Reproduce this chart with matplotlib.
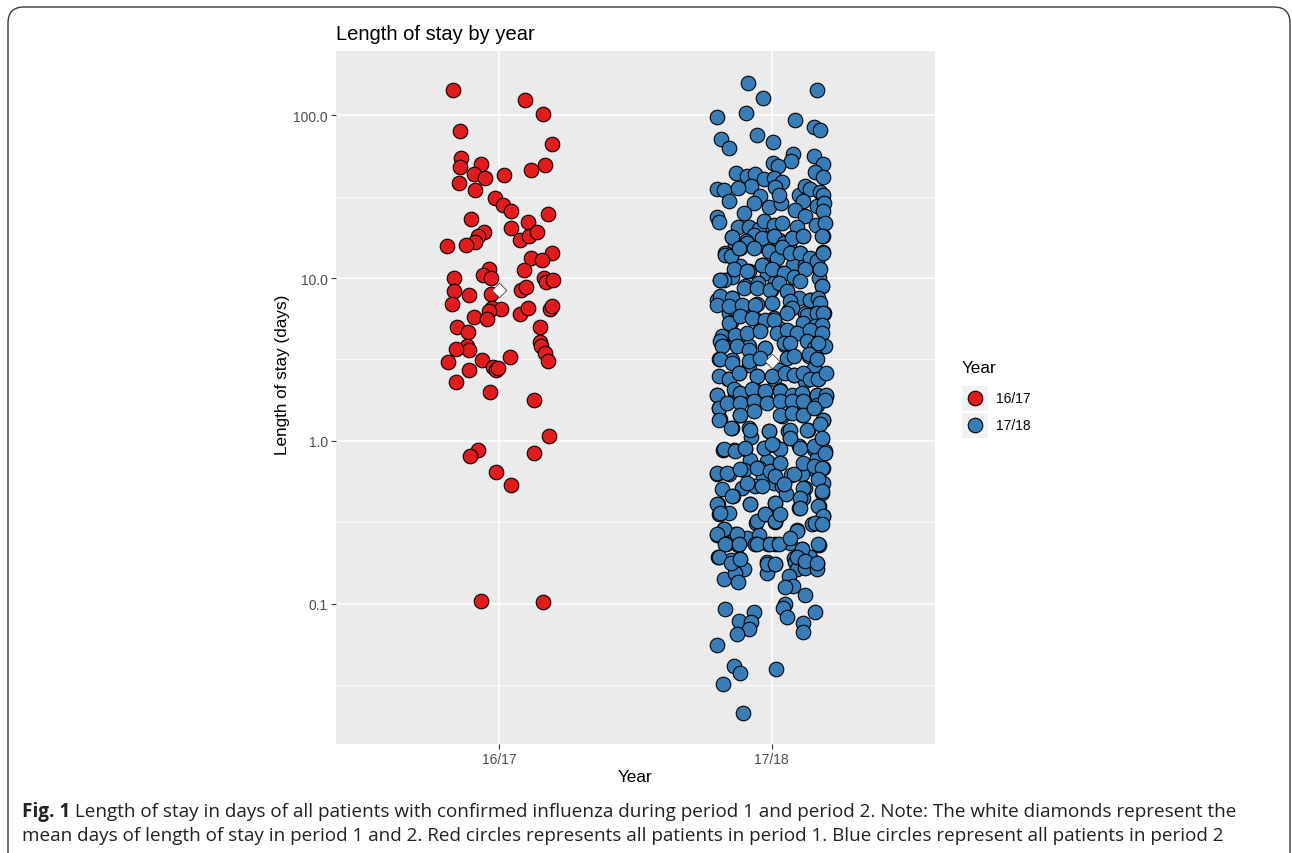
import numpy as np
import matplotlib.pyplot as plt
from matplotlib.patches import FancyBboxPatch, Rectangle

W, H = 1292, 854

years = ['16/17', '17/18']
colors = ['#E41A1C', '#377EB8']

# (jitter, days), period 1
red_points = [
    (-0.171, 142), (0.094, 125), (0.161, 102), (-0.143, 80.5), (0.193, 66.4),
    (-0.140, 54.7), (-0.143, 47.8), (-0.066, 50.1), (-0.094, 43.4), (-0.054, 40.9),
    (0.017, 43.0), (0.117, 46.2), (0.168, 49.4), (-0.147, 38.3), (-0.090, 34.5),
    (-0.017, 31.1), (0.014, 28.0), (0.041, 25.9), (0.179, 24.9), (-0.103, 23.0),
    (0.104, 22.0), (0.043, 20.2), (-0.058, 19.2), (-0.079, 18.2), (-0.088, 16.7),
    (-0.122, 15.9), (-0.193, 15.7), (0.077, 17.2), (0.110, 18.0), (0.140, 19.2),
    (0.193, 14.3), (0.117, 13.3), (0.156, 12.9), (-0.039, 11.4), (-0.059, 10.5),
    (-0.030, 10.0), (-0.168, 10.0), (0.092, 11.2), (0.165, 10.0), (0.173, 9.45),
    (0.198, 9.77), (-0.168, 8.28), (-0.110, 7.90), (-0.030, 7.98), (0.079, 8.47),
    (0.098, 8.81), (-0.173, 6.92), (-0.028, 6.55), (0.006, 6.48), (-0.037, 6.25),
    (-0.094, 5.74), (-0.047, 5.60), (0.077, 6.01), (0.107, 6.55), (0.186, 6.48),
    (0.195, 6.70), (-0.156, 4.99), (-0.115, 4.69), (0.149, 4.99), (0.149, 4.05),
    (0.154, 3.81), (-0.120, 3.81), (-0.112, 3.62), (-0.159, 3.67), (0.167, 3.47),
    (0.177, 3.08), (-0.189, 3.05), (-0.063, 3.14), (0.039, 3.26), (-0.025, 2.83),
    (-0.012, 2.73), (-0.006, 2.80), (-0.112, 2.71), (-0.159, 2.30), (-0.034, 2.00),
    (0.126, 1.79), (0.181, 1.07), (-0.079, 0.877), (-0.107, 0.805), (0.126, 0.836),
    (-0.012, 0.643), (0.043, 0.535), (-0.067, 0.104), (0.159, 0.102),
]

# period 2
blue_points = [
    (-0.088, 159), (0.168, 144), (-0.033, 128), (-0.200, 98), (-0.093, 103),
    (0.084, 93), (0.156, 84.8), (0.176, 81.7), (-0.186, 71.3), (-0.156, 62.8),
    (-0.052, 75.7), (0.005, 69), (0.078, 58.2), (0.072, 52), (0.004, 50.8),
    (0.023, 49.1), (0.154, 56.3), (0.187, 50.3), (0.160, 44.7), (0.188, 41.8),
    (-0.131, 44.3), (-0.089, 42.4), (-0.060, 43.4), (-0.074, 37.0), (-0.028, 40.5),
    (0.007, 40.9), (0.038, 39.0), (0.011, 36.5), (-0.200, 35.3), (-0.176, 34.7),
    (-0.125, 35.5), (-0.158, 29.8), (-0.044, 31.7), (-0.066, 28.8), (-0.008, 27.2),
    (0.036, 29.1), (0.026, 32.2), (0.099, 32.4), (0.121, 37.0), (0.142, 35.2),
    (0.176, 33.7), (0.190, 32.4), (0.115, 29.6), (0.087, 26.2), (0.121, 24.2),
    (0.168, 27.9), (0.194, 28.8), (0.187, 25.7), (-0.103, 25.0), (-0.200, 23.6),
    (-0.192, 22.1), (-0.123, 20.5), (-0.084, 20.5), (-0.045, 20.0), (-0.029, 22.5),
    (0.007, 21.2), (0.038, 21.8), (0.093, 20.5), (0.164, 21.1), (0.197, 21.8),
    (-0.066, 18.4),
    (-0.145, 17.8), (-0.093, 16.8), (-0.017, 17.6), (0.026, 17.2), (0.074, 17.6),
    (0.117, 18.0), (0.190, 18.0), (-0.133, 16.0), (-0.172, 14.2), (-0.151, 13.7),
    (-0.115, 15.3), (-0.041, 16.0), (0.014, 14.2), (0.016, 13.3), (0.062, 15.6),
    (0.105, 14.2), (0.144, 13.1), (0.190, 14.4), (-0.115, 11.9), (-0.084, 11.0),
    (-0.036, 12.1), (-0.017, 10.7), (0.038, 10.8), (0.077, 12.1), (0.123, 12.1),
    (0.175, 11.4), (-0.190, 9.77), (-0.145, 10.2), (-0.099, 8.9), (-0.050, 9.3),
    (0.014, 9.5), (0.082, 10.2), (0.175, 10.0), (0.184, 8.9), (-0.194, 7.36),
    (-0.145, 7.54), (-0.054, 6.95), (-0.001, 8.47), (0.056, 8.28), (0.099, 7.54),
    (0.142, 7.36), (0.166, 7.03), (-0.158, 6.10), (-0.109, 6.10), (-0.066, 5.69),
    (0.007, 5.69), (0.062, 6.39), (0.123, 6.10), (0.194, 6.10), (-0.151, 5.35),
    (-0.041, 4.82), (0.026, 4.93), (0.081, 4.60), (0.181, 5.05), (-0.182, 4.22),
    (-0.129, 3.88), (-0.084, 3.81), (-0.023, 3.72), (0.050, 3.90), (0.136, 4.39),
    (0.194, 3.81), (-0.194, 3.18), (-0.145, 3.13), (-0.084, 2.94), (0.026, 2.74),
    (0.081, 2.55), (0.136, 3.31), (0.154, 2.80), (0.172, 2.38), (-0.160, 2.38),
    (-0.121, 2.61), (-0.054, 2.49), (0.007, 2.38), (0.123, 2.32), (-0.200, 1.92),
    (-0.133, 1.97), (-0.060, 2.06), (0.032, 2.06), (0.105, 1.92), (0.166, 1.92),
    (0.200, 1.88), (-0.109, 1.79), (-0.023, 1.84),
    (-0.194, 1.59), (0.154, 1.61), (-0.188, 1.37), (-0.117, 1.45), (0.074, 1.51),
    (0.038, 1.42), (0.111, 1.45), (0.190, 1.35), (-0.145, 1.19), (-0.082, 1.19),
    (-0.008, 1.15), (-0.074, 1.05), (0.060, 1.15), (0.133, 1.17), (0.068, 1.04),
    (0.184, 1.03), (-0.179, 0.877), (-0.139, 0.872), (-0.096, 0.885), (-0.029, 0.906),
    (0.007, 0.948), (0.032, 0.885), (0.099, 0.927), (0.154, 0.885), (0.197, 0.865),
    (-0.078, 0.767), (-0.017, 0.750), (0.032, 0.733), (0.166, 0.787), (-0.200, 0.621),
    (-0.158, 0.628), (-0.103, 0.658), (-0.045, 0.676), (-0.033, 0.593), (0.007, 0.552),
    (0.072, 0.616), (0.145, 0.676), (0.190, 0.676), (0.111, 0.628), (-0.109, 0.515),
    (-0.060, 0.527), (0.038, 0.527), (0.187, 0.552), (0.121, 0.513), (-0.142, 0.458),
    (0.052, 0.469), (0.114, 0.447), (0.184, 0.480), (-0.197, 0.407), (-0.194, 0.353),
    (-0.158, 0.361), (-0.078, 0.407), (0.014, 0.417), (0.099, 0.388), (0.175, 0.397),
    (-0.026, 0.357), (0.026, 0.353), (0.190, 0.345), (-0.058, 0.314), (0.014, 0.318),
    (0.148, 0.310), (0.182, 0.307), (-0.176, 0.286), (-0.200, 0.264), (-0.133, 0.266),
    (-0.090, 0.254), (-0.048, 0.264), (0.093, 0.282), (0.014, 0.231), (-0.014, 0.231),
    (-0.167, 0.233), (-0.123, 0.230), (-0.060, 0.231), (0.068, 0.237), (0.111, 0.215),
    (0.175, 0.230), (-0.197, 0.193), (-0.148, 0.185), (-0.118, 0.188), (-0.017, 0.179),
    (0.014, 0.176), (0.081, 0.190), (0.087, 0.179), (0.142, 0.194), (0.166, 0.176),
    (-0.103, 0.162), (-0.176, 0.142), (-0.133, 0.153), (-0.123, 0.135), (-0.017, 0.155),
    (0.093, 0.162), (0.121, 0.166), (0.166, 0.164), (0.065, 0.148), (0.077, 0.129),
    (0.048, 0.127), (0.121, 0.113), (0.048, 0.100), (0.040, 0.0945), (0.058, 0.0832),
    (0.158, 0.0881), (-0.173, 0.0931), (-0.065, 0.0881), (-0.121, 0.0776), (-0.074, 0.0766),
    (-0.084, 0.0695), (-0.126, 0.0646), (0.117, 0.0764), (0.115, 0.0673), (-0.200, 0.0555),
    (-0.137, 0.0415), (-0.115, 0.0373), (0.016, 0.0395), (-0.178, 0.0320), (-0.105, 0.0214),
    # dense middle, second reading
    (-0.145, 17.8), (-0.090, 16.4), (-0.035, 17.6), (0.007, 18.0), (0.044, 16.4),
    (0.074, 17.6), (0.117, 18.0), (0.184, 18.0), (-0.170, 13.9), (-0.151, 13.6),
    (-0.121, 15.3), (-0.066, 15.3), (-0.011, 14.6), (0.020, 13.3), (0.038, 15.6),
    (0.068, 14.2), (0.105, 14.2), (0.142, 13.3), (0.166, 12.7), (0.188, 14.2),
    (-0.176, 9.77), (-0.190, 9.77), (-0.139, 11.3), (-0.090, 11.0), (-0.035, 12.1),
    (0.001, 11.3), (0.044, 10.7), (0.081, 10.2), (0.123, 11.3), (0.178, 11.3),
    (0.184, 8.89), (-0.200, 7.36), (-0.188, 7.72), (-0.145, 7.54), (-0.103, 8.68),
    (-0.054, 8.68), (-0.005, 8.48), (0.026, 9.32), (0.056, 8.28), (0.105, 9.54),
    (0.142, 7.36), (0.172, 7.54), (0.176, 7.03), (-0.200, 6.86), (-0.158, 6.70),
    (-0.109, 6.86), (-0.060, 6.86), (0.001, 7.03), (0.068, 7.19), (0.074, 6.55),
    (0.129, 5.96), (0.166, 6.10), (0.190, 6.10), (-0.158, 5.30), (-0.115, 5.82),
    (-0.072, 5.68), (-0.023, 5.55), (0.007, 5.55), (0.056, 6.10), (0.117, 5.30),
    (0.160, 5.05), (0.184, 5.17), (-0.182, 4.39), (-0.188, 4.09), (-0.133, 4.49),
    (-0.090, 4.60), (-0.042, 4.71), (0.020, 4.60), (0.056, 4.82), (0.093, 4.60),
    (0.142, 4.82), (0.184, 4.60), (0.197, 3.81), (-0.182, 3.81), (-0.127, 3.81),
    (-0.084, 3.63), (-0.023, 3.72), (0.044, 3.99), (0.068, 3.99), (0.129, 4.09),
    (0.154, 3.72), (0.172, 3.99), (-0.188, 3.16), (-0.145, 3.01), (-0.084, 3.08),
    (-0.042, 3.23), (0.026, 2.74), (0.056, 3.23), (0.081, 3.31), (0.136, 3.39),
    (0.166, 3.16), (-0.194, 2.49), (-0.158, 2.38), (-0.121, 2.61), (-0.054, 2.49),
    (0.001, 2.49), (0.050, 2.61), (0.081, 2.55), (0.117, 2.61), (0.142, 2.38),
    (0.172, 2.38), (0.200, 2.61), (-0.200, 1.92), (-0.139, 2.07), (-0.115, 1.97),
    (-0.072, 2.07), (-0.023, 2.02), (0.032, 2.02), (0.074, 1.92), (0.111, 1.97),
    (0.166, 1.92), (0.200, 1.92),
    (-0.194, 1.59), (-0.164, 1.71), (-0.115, 1.71), (-0.066, 1.75), (-0.017, 1.71),
    (0.032, 1.75), (0.074, 1.75), (0.117, 1.75), (0.166, 1.67), (0.197, 1.79),
    (-0.194, 1.35), (-0.115, 1.45), (-0.066, 1.52), (0.032, 1.45), (0.074, 1.48),
    (0.117, 1.45), (0.154, 1.59), (0.190, 1.35), (-0.151, 1.20), (-0.078, 1.17),
    (-0.011, 1.15), (0.068, 1.17), (0.129, 1.17), (0.178, 1.26), (-0.176, 0.885),
    (-0.133, 0.864), (-0.096, 0.906), (-0.029, 0.906), (0.001, 0.949), (0.068, 1.04),
    (0.105, 0.906), (0.154, 0.927), (0.184, 1.04), (0.197, 0.844), (-0.200, 0.636),
    (-0.164, 0.636), (-0.115, 0.667), (-0.054, 0.683), (-0.005, 0.652), (0.032, 0.733),
    (0.081, 0.621), (0.117, 0.733), (0.154, 0.699), (0.184, 0.683), (0.172, 0.579),
    (-0.182, 0.503), (-0.145, 0.458), (-0.090, 0.553), (-0.035, 0.527), (0.013, 0.607),
    (0.044, 0.540), (0.117, 0.515), (0.184, 0.491), (-0.200, 0.407), (-0.188, 0.362),
    (-0.078, 0.407), (0.013, 0.416), (0.105, 0.447), (0.105, 0.388), (0.172, 0.397),
    (0.190, 0.345), (-0.176, 0.286), (-0.200, 0.266), (-0.127, 0.266), (-0.054, 0.321),
    (-0.023, 0.353), (0.013, 0.321), (0.032, 0.353), (0.093, 0.279), (0.160, 0.314),
    (0.184, 0.307), (-0.170, 0.231), (-0.121, 0.231), (-0.054, 0.231), (-0.005, 0.231),
    (0.026, 0.231), (0.068, 0.254), (0.111, 0.215), (0.172, 0.231), (-0.194, 0.192),
    (-0.151, 0.178), (-0.115, 0.187), (-0.017, 0.174), (0.013, 0.174), (0.093, 0.192),
    (0.123, 0.183), (0.166, 0.178),
]

# white diamonds: mean days per period
mean_days = [8.5, 3.1]

y_ticks = [0.1, 1, 10, 100]
y_tick_labels = ['0.1', '1.0', '10.0', '100.0']

caption_bold = 'Fig. 1'
caption_1 = ('Length of stay in days of all patients with confirmed influenza during period 1 and period 2. '
             'Note: The white diamonds represent the')
caption_2 = ('mean days of length of stay in period 1 and 2. Red circles represents all patients in period 1. '
             'Blue circles represent all patients in period 2')

plt.rcParams['font.family'] = ['Liberation Sans', 'DejaVu Sans']

fig = plt.figure(figsize=(W / 100, H / 100), dpi=100)
ax = fig.add_axes([336 / W, 1 - 745 / H, 599 / W, 693 / H])
ax.set_facecolor('#EBEBEB')
for s in ax.spines.values():
    s.set_visible(False)

groups = [np.array(red_points), np.array(blue_points)]
for i, pts in enumerate(groups):
    ax.scatter(i + 1 + pts[:, 0], pts[:, 1], s=110, c=colors[i], edgecolors='black',
               linewidths=0.8, zorder=3)
ax.scatter([1, 2], mean_days, marker='D', s=55, c='white', edgecolors='#444444',
           linewidths=0.6, zorder=4)

# log scale with ggplot style expansion
ax.set_yscale('log')
all_days = np.concatenate([g[:, 1] for g in groups])
lo, hi = np.log10(all_days.min()), np.log10(all_days.max())
pad = (hi - lo) * 0.05
ax.set_ylim(10 ** (lo - pad), 10 ** (hi + pad))
ax.set_xlim(0.4, 2.6)

ax.set_yticks(y_ticks)
ax.set_yticklabels(y_tick_labels)
ax.set_yticks(10 ** (np.arange(-1.5, 2.5, 1.0)), minor=True)
ax.yaxis.set_minor_formatter(plt.NullFormatter())
ax.set_xticks([1, 2])
ax.set_xticklabels(years)

ax.grid(True, which='major', color='white', linewidth=1.1)
ax.grid(True, which='minor', axis='y', color='white', linewidth=0.55)
ax.set_axisbelow(True)
ax.tick_params(which='major', length=3.5, width=0.8, color='#333333', labelsize=10,
               labelcolor='#4D4D4D', pad=2.5)
ax.tick_params(which='minor', length=0)

# overlay in pixel coords for labels, legend, border and caption
lax = fig.add_axes([0, 0, 1, 1])
lax.set_xlim(0, W)
lax.set_ylim(H, 0)
lax.axis('off')
lax.patch.set_visible(False)

lax.text(336, 34, 'Length of stay by year', fontsize=14.5, va='center', ha='left', color='black')
lax.text(635, 778, 'Year', fontsize=12.3, va='center', ha='center', color='black')
lax.text(282, 375, 'Length of stay (days)', fontsize=12.3, va='center', ha='center',
         rotation=90, color='black')

# legend
lax.text(962, 369, 'Year', fontsize=12.3, va='center', ha='left')
for i, yr in enumerate(years):
    yc = 399 + 27 * i
    lax.add_patch(Rectangle((962, yc - 12.5), 26, 25, facecolor='#F2F2F2', edgecolor='none'))
    lax.scatter([975], [yc], s=110, c=colors[i], edgecolors='black', linewidths=0.8, zorder=3)
    lax.text(996, yc, yr, fontsize=10, va='center', ha='left', color='black')

# frame
lax.add_patch(FancyBboxPatch((8, 8), 1282, 900, boxstyle='round,pad=0,rounding_size=16',
                             facecolor='none', edgecolor='#3A3A3A', linewidth=1.0, clip_on=False))

cap_font = ['Open Sans', 'DejaVu Sans']
t1 = lax.text(22, 812, caption_bold, fontsize=13.6, fontweight='bold', family=cap_font,
              va='center', ha='left', color='#231F20')
fig.canvas.draw()
bb = t1.get_window_extent()
lax.text(bb.x1, 812, ' ' + caption_1, fontsize=13.6, family=cap_font, va='center', ha='left',
         color='#231F20')
lax.text(22, 836, caption_2, fontsize=13.6, family=cap_font, va='center', ha='left', color='#231F20')

plt.savefig('out.png', dpi=100)
